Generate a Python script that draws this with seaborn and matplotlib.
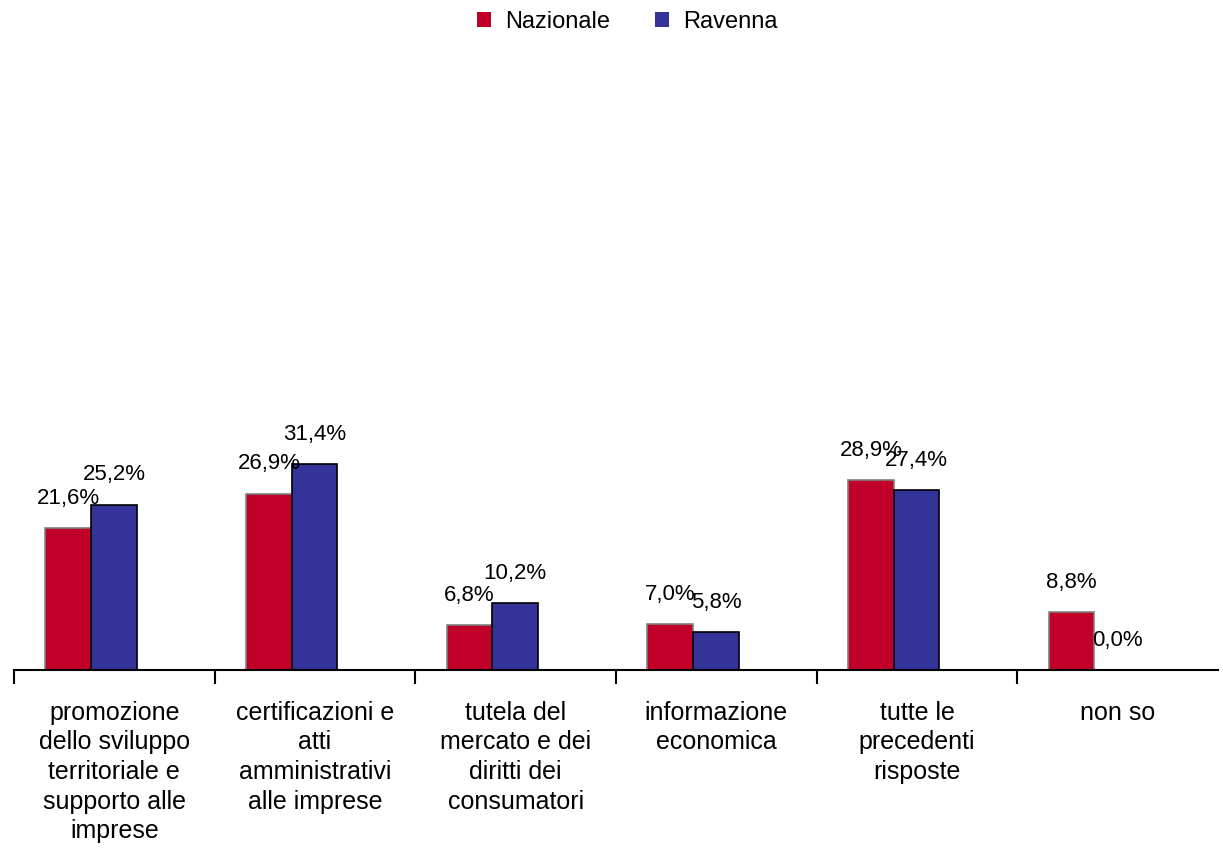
import matplotlib
matplotlib.use("Agg")
import matplotlib.pyplot as plt
import seaborn as sns
import pandas as pd
from matplotlib.patches import Patch

categories = [
    "promozione\ndello sviluppo\nterritoriale e\nsupporto alle\nimprese",
    "certificazioni e\natti\namministrativi\nalle imprese",
    "tutela del\nmercato e dei\ndiritti dei\nconsumatori",
    "informazione\neconomica",
    "tutte le\nprecedenti\nrisposte",
    "non so",
]
series = ["Nazionale", "Ravenna"]
nazionale = [21.6, 26.9, 6.8, 7.0, 28.9, 8.8]
ravenna = [25.2, 31.4, 10.2, 5.8, 27.4, 0.0]
colors = {"Nazionale": "#C00028", "Ravenna": "#333399"}
edges = {"Nazionale": "#808080", "Ravenna": "#000000"}

df = pd.DataFrame({
    "cat": categories * 2,
    "serie": [series[0]] * 6 + [series[1]] * 6,
    "val": nazionale + ravenna,
})

sns.set_theme(style="white")
fam = ["Liberation Sans", "DejaVu Sans"]
plt.rcParams["font.family"] = fam
plt.rcParams["text.color"] = "black"
plt.rcParams["xtick.color"] = "black"
plt.rcParams["xtick.labelcolor"] = "black"

fig = plt.figure(figsize=(12.23, 8.61), dpi=100)
ax = fig.add_axes([14 / 1223, 191 / 861, 1204 / 1223, 656 / 861])

sns.barplot(data=df, x="cat", y="val", hue="serie", order=categories,
            hue_order=series, palette=colors, width=0.456, ax=ax,
            legend=False, errorbar=None, saturation=1)

shift = -0.116
for cont, s in zip(ax.containers, series):
    for p in cont.patches:
        p.set_x(p.get_x() + shift)
        p.set_edgecolor(edges[s])
        p.set_linewidth(1.2)
    labels = [f"{v:.1f}%".replace(".", ",") for v in cont.datavalues]
    ax.bar_label(cont, labels=labels, padding=14, fontsize=16, color="black")

ax.set_xlim(-0.5, 5.5)
ax.set_ylim(0, 100)
ax.set_xlabel("")
ax.set_ylabel("")
ax.set_yticks([])
for side in ["top", "right", "left"]:
    ax.spines[side].set_visible(False)
ax.spines["bottom"].set_color("black")
ax.spines["bottom"].set_linewidth(1.5)

ax.set_xticks(range(6))
ax.set_xticklabels(categories, fontsize=18, linespacing=1.3, va="top", color="black")
ax.tick_params(axis="x", length=0, pad=22)
ax.set_xticks([i - 0.5 for i in range(6)], minor=True)
ax.tick_params(axis="x", which="minor", length=10, width=1.5, color="black",
               direction="out", bottom=True)

handles = [Patch(facecolor=colors[s], edgecolor="none") for s in series]
fig.legend(handles, series, loc="upper center", bbox_to_anchor=(0.513, 1.012),
           ncol=2, frameon=False, handlelength=0.6, handleheight=0.6,
           columnspacing=1.9, handletextpad=0.6,
           prop={"family": fam, "size": 17})

fig.savefig("out.png", dpi=100)
